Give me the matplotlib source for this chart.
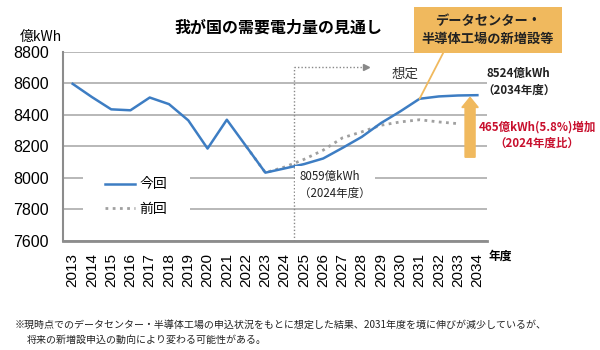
import matplotlib.pyplot as plt
from matplotlib.patches import Rectangle
import numpy as np

plt.rcParams['font.family'] = ['Noto Sans CJK JP', 'DejaVu Sans']

years = list(range(2013, 2035))
current = [8596, 8512, 8434, 8428, 8509, 8467, 8364, 8185, 8368, 8200, 8032, 8059,
           8086, 8122, 8189, 8259, 8347, 8421, 8501, 8516, 8522, 8524]
prev_years = list(range(2022, 2034))
previous = [8200, 8032, 8068, 8116, 8175, 8253, 8291, 8333, 8354, 8368, 8354, 8343]
yticks = [7600, 7800, 8000, 8200, 8400, 8600, 8800]

BLUE = "#3D7DC3"
GRAY = "#A0A0A0"
ORANGE = "#F0B95E"
RED = "#C8102E"

fig = plt.figure(figsize=(6, 3.5), dpi=100)
ax = fig.add_axes([0.105, 0.3123, 0.7067, 0.54])

xi = np.arange(len(years))
px = np.array([years.index(y) for y in prev_years])

ax.plot(xi, current, color=BLUE, lw=1.8, label="今回", zorder=4)
ax.plot(px, previous, color=GRAY, lw=2, ls=(0, (1, 1.6)), label="前回", zorder=3)

ax.set_xlim(-0.5, len(years) - 0.5)
ax.set_ylim(7600, 8800)
ax.set_yticks(yticks)
ax.set_yticklabels([str(v) for v in yticks], family='Liberation Sans', fontsize=11.5)
ax.set_xticks(xi)
ax.set_xticklabels([str(y) for y in years], rotation=90, family='Liberation Sans', fontsize=11)
ax.tick_params(axis='y', length=0, pad=10)
ax.tick_params(axis='x', length=0, pad=9)
ax.grid(axis='y', color="#ABABAB", lw=1.2, zorder=1)
ax.set_axisbelow(True)
for s in ['top', 'right']:
    ax.spines[s].set_visible(False)
ax.spines['left'].set_color("#8C8C8C")
ax.spines['left'].set_linewidth(1.5)
ax.spines['bottom'].set_color("#8C8C8C")
ax.spines['bottom'].set_linewidth(2)

# 想定 region marker
ax.plot([11.5, 11.5], [7600, 8705], color="#888888", lw=1, ls=(0, (1, 1.5)), zorder=2)
ax.plot([11.5, 15.1], [8705, 8705], color="#888888", lw=1, ls=(0, (1, 1.5)), zorder=2)
ax.plot([15.2], [8705], marker='>', color="#888888", ms=5, zorder=2)
ax.text(17.25, 8662, "想定", fontsize=9.7, ha='center', va='center', color="#333333")

# increase arrow
ax.arrow(20.62, 8130, 0, 380, width=0.52, head_width=0.85, head_length=64,
         length_includes_head=True, color=ORANGE, zorder=5, clip_on=False)

ax.text(11.75, 8048, "8059億kWh\n（2024年度）", fontsize=8.3, ha='left', va='top',
        linespacing=1.35, color="#222222",
        bbox=dict(facecolor='white', edgecolor='none', pad=3), zorder=6)
ax.text(23.15, 8610, "8524億kWh\n（2034年度）", fontsize=8.3, ha='center', va='center',
        linespacing=1.35, color="#222222", fontweight='bold', clip_on=False)
ax.text(24.1, 8272, "465億kWh(5.8%)増加\n（2024年度比）", fontsize=8.3, ha='center',
        va='center', linespacing=1.35, color=RED, fontweight='bold', clip_on=False)

ax.annotate("データセンター・\n半導体工場の新増設等", xy=(18, 8501), xycoords='data',
            xytext=(488, 320), textcoords='figure pixels', ha='center', va='center',
            fontsize=9.5, fontweight='bold', color="#222222", linespacing=1.3,
            bbox=dict(boxstyle='square,pad=0.55', facecolor=ORANGE, edgecolor='none'),
            arrowprops=dict(arrowstyle='-', color=ORANGE, lw=1.3, relpos=(0.19, 0),
                            shrinkA=0, shrinkB=0), zorder=7)

# legend with a white patch masking the gridlines
ax.add_patch(Rectangle((0.047, 0.10), 0.253, 0.285, transform=ax.transAxes,
                       facecolor='white', edgecolor='none', zorder=5))
leg = ax.legend(loc='upper left', bbox_to_anchor=(0.098, 0.335), fontsize=10,
                frameon=False, handlelength=2.2, handletextpad=0.3, labelspacing=0.75,
                borderpad=0, borderaxespad=0)
leg.set_zorder(6)

fig.text(278 / 600, 1 - 28 / 350, "我が国の需要電力量の見通し", fontsize=11.5,
         fontweight='bold', ha='center', va='center')
fig.text(20 / 600, 1 - 37 / 350, "億kWh", fontsize=10, ha='left', va='center')
fig.text(489 / 600, 1 - 256 / 350, "年度", fontsize=8.5, ha='left', va='center',
         fontweight='bold')
fig.text(15 / 600, 1 - 325 / 350,
         "※現時点でのデータセンター・半導体工場の申込状況をもとに想定した結果、2031年度を境に伸びが減少しているが、",
         fontsize=7.2, ha='left', va='center', color="#222222")
fig.text(27 / 600, 1 - 340 / 350, "将来の新増設申込の動向により変わる可能性がある。",
         fontsize=7.2, ha='left', va='center', color="#222222")

fig.savefig("out.png", dpi=100)
